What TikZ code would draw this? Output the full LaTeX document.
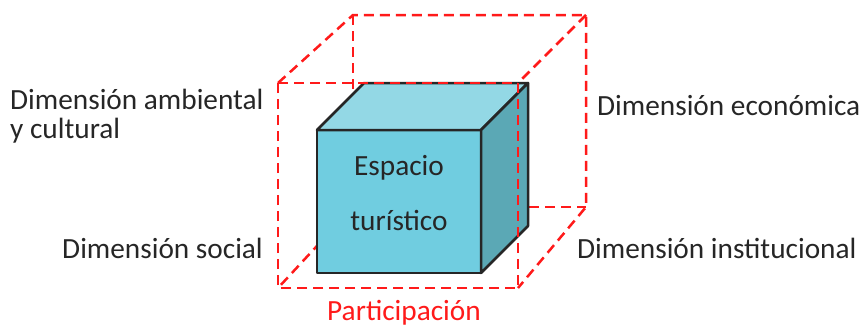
\documentclass[tikz,border=0pt]{standalone}
\usepackage{fontspec}
\setmainfont{Carlito}
\usepackage{xcolor}
\definecolor{cubefront}{HTML}{70CDE0}
\definecolor{cubetop}{HTML}{93D8E5}
\definecolor{cubeside}{HTML}{5BA8B5}
\definecolor{labelgray}{HTML}{262626}
\definecolor{dimred}{HTML}{FF1A1A}

\tikzset{
  frame/.style={draw=dimred, line width=2.5pt, dash pattern=on 10pt off 6pt},
  face/.style={draw=black!85, line width=2.5pt, line join=round},
  dimlabel/.style={text=labelgray, inner sep=0pt, font=\fontsize{29.3}{29}\selectfont},
}

\begin{document}
\begin{tikzpicture}[x=1pt, y=-1pt]
\useasboundingbox (0,0) rectangle (867,327);

\foreach \k/\i/\j in {fa/278/83, fb/518/83, fc/518/288, fd/278/288} {
    \coordinate (\k) at (\i, \j);
}

\foreach \k/\i/\j in {ba/353/15, bb/586/15, bc/586/207, bd/353/207} {
    \coordinate (\k) at (\i, \j);
}

\foreach \k/\i/\j in {ca/317/130, cb/481/130, cc/481/273, cd/317/273, ce/364/83, cf/528/83, cg/528/226} {
    \coordinate (\k) at (\i, \j);
}

\draw[frame] (ba) -- (bd) -- (bc);
\draw[frame] (bd) -- (fd);

\draw[face, fill=cubefront] (ca) -- (cb) -- (cc) -- (cd) -- cycle;
\draw[face, fill=cubetop] (ca) -- (ce) -- (cf) -- (cb) -- cycle;
\draw[face, fill=cubeside] (cb) -- (cf) -- (cg) -- (cc) -- cycle;

\draw[frame] (fa) -- (fb) -- (fc) -- (fd) -- cycle;
\draw[frame] (fa) -- (ba) -- (bb) -- (bc) -- (fc);
\draw[frame] (bb) -- (fb);

\node[dimlabel, anchor=base west, align=left] (ambiental) at (10, 138) {Dimensión ambiental\\y cultural};
\node[dimlabel, anchor=base east] (social) at (263, 258) {Dimensión social};
\node[dimlabel, anchor=base west] (economica) at (597, 115) {Dimensión económica};
\node[dimlabel, anchor=base west] (institucional) at (577, 258) {Dimensión institucional};
\node[dimlabel, text=dimred, anchor=base] (participacion) at (404, 320) {Participación};
\node[dimlabel, anchor=base, align=center] (espacio) at (399, 230) {Espacio\\[26pt]turístico};
\end{tikzpicture}
\end{document}
